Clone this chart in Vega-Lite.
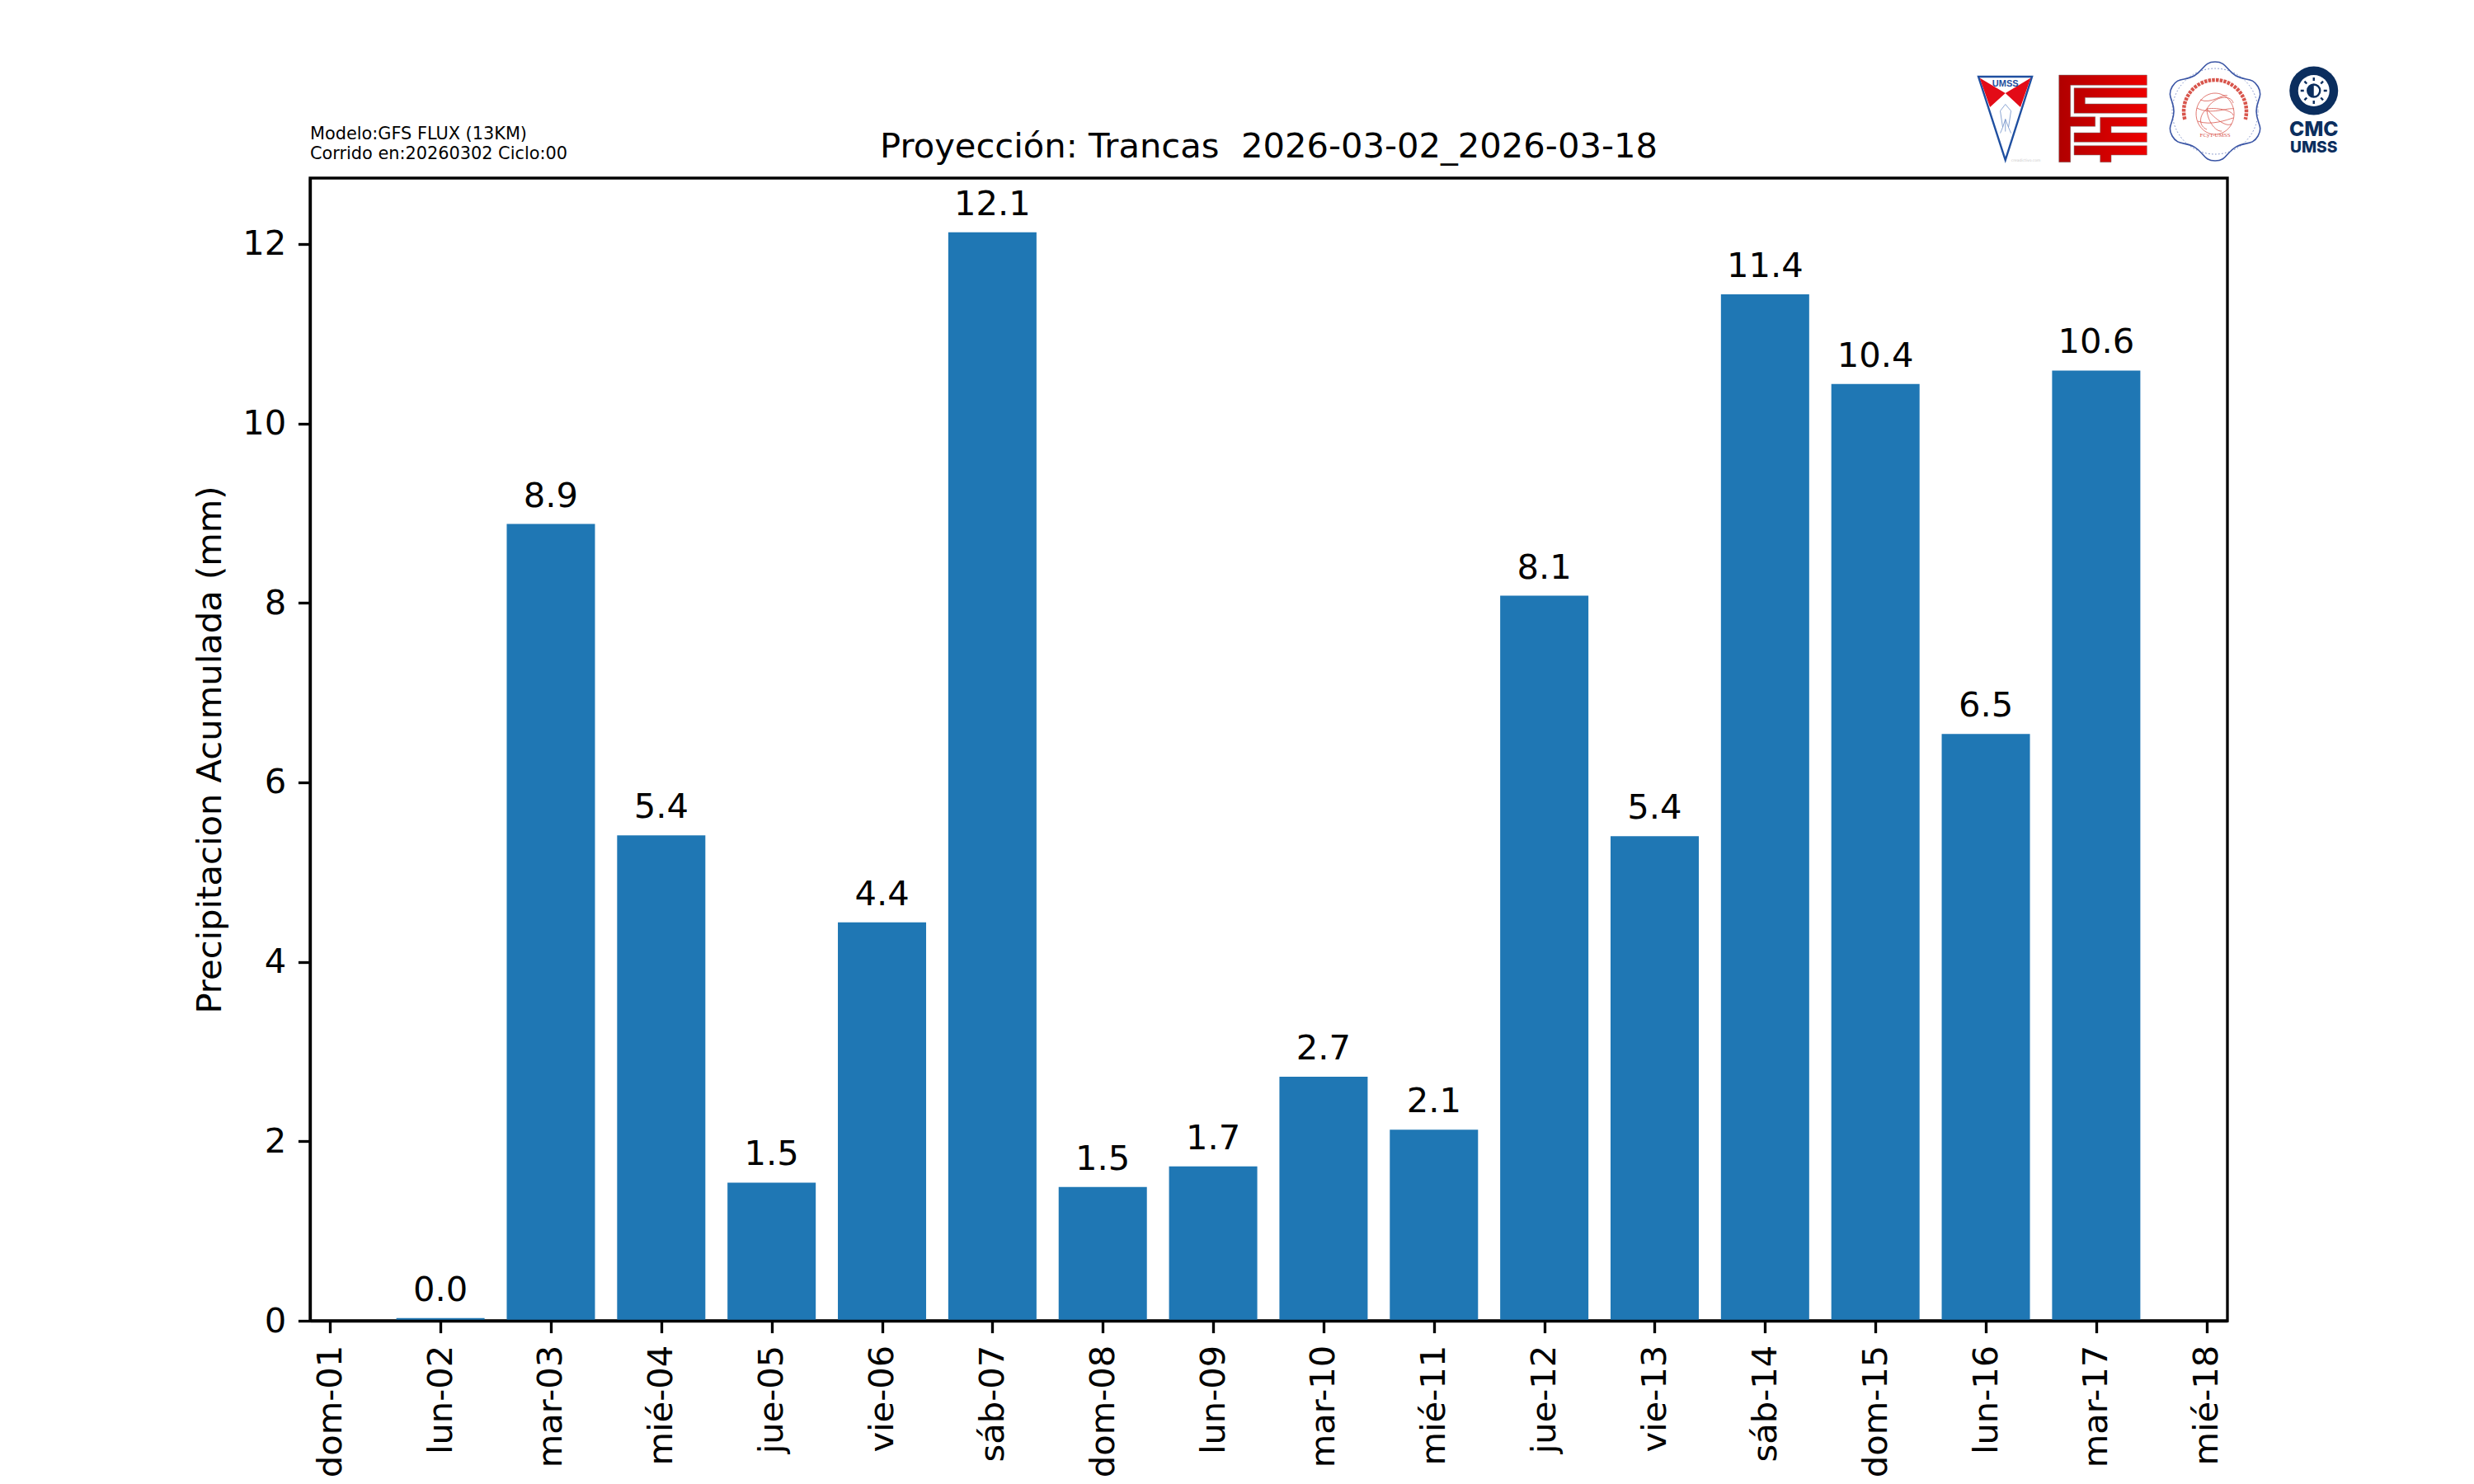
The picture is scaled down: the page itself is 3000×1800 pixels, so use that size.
{
"$schema":"https://vega.github.io/schema/vega-lite/v6.json",
"autosize":{"type":"none"},
"padding":{"left":376,"top":216,"right":299,"bottom":198},
"width":2325,"height":1386,
"background":"white",
"config":{"font":"DejaVu Sans","view":{"stroke":"#000000","strokeWidth":3.33}},
"title":{"text":"Proyección: Trancas \u00a02026-03-02_2026-03-18","font":"DejaVu Sans","fontSize":41.67,"fontWeight":"normal","color":"#000000","anchor":"middle","offset":25,"dy":186,"baseline":"alphabetic"},
"data":{"values":[
{"dia":"lun-02","precip":0.03},{"dia":"mar-03","precip":8.88},{"dia":"mié-04","precip":5.41},{"dia":"jue-05","precip":1.54},{"dia":"vie-06","precip":4.44},{"dia":"sáb-07","precip":12.13},{"dia":"dom-08","precip":1.49},{"dia":"lun-09","precip":1.72},{"dia":"mar-10","precip":2.72},{"dia":"mié-11","precip":2.13},{"dia":"jue-12","precip":8.08},{"dia":"vie-13","precip":5.4},{"dia":"sáb-14","precip":11.44},{"dia":"dom-15","precip":10.44},{"dia":"lun-16","precip":6.54},{"dia":"mar-17","precip":10.59}
]},
"layer":[
{"encoding":{
"x":{"field":"dia","type":"nominal","title":null,"scale":{"type":"point","domain":["dom-01","lun-02","mar-03","mié-04","jue-05","vie-06","sáb-07","dom-08","lun-09","mar-10","mié-11","jue-12","vie-13","sáb-14","dom-15","lun-16","mar-17","mié-18"],"padding":0.185,"align":0.49,"round":false},"axis":{"labelAngle":270,"labelAlign":"right","labelBaseline":"middle","labelFont":"DejaVu Sans","labelFontSize":41.67,"labelColor":"#000000","labelPadding":14.6,"tickSize":14.6,"tickWidth":3.33,"tickColor":"#000000","domainColor":"#000000","domainWidth":3.33,"grid":false,"labelOverlap":false,"zindex":1}},
"y":{"field":"precip","type":"quantitative","scale":{"domain":[0,12.735],"nice":false,"zero":true},"axis":{"title":"Precipitacion Acumulada (mm)","values":[0,2,4,6,8,10,12],"format":"d","titleFont":"DejaVu Sans","titleFontSize":41.67,"titleFontWeight":"normal","titleColor":"#000000","titlePadding":17,"labelFont":"DejaVu Sans","labelFontSize":41.67,"labelColor":"#000000","labelPadding":14.6,"tickSize":14.6,"tickWidth":3.33,"tickColor":"#000000","domainColor":"#000000","domainWidth":3.33,"grid":false,"zindex":1}}
},
"layer":[
{"mark":{"type":"bar","width":107,"color":"#1f77b4"}},
{"mark":{"type":"text","baseline":"alphabetic","align":"center","dy":-21,"fontSize":41.67,"font":"DejaVu Sans","color":"#000000"},
"encoding":{"text":{"field":"precip","type":"quantitative","format":".1f"}}}
]},
{"data":{"values":[{"k":1}]},
"encoding":{
"x":{"datum":"mar-17","type":"nominal","title":null},
"y":{"datum":13.208,"type":"quantitative","title":null}
},
"layer":[
{"mark":{"type":"text","text":["Modelo:GFS FLUX (13KM)","Corrido en:20260302 Ciclo:00"],"align":"left","baseline":"alphabetic","dx":-2165.85,"dy":4.3,"fontSize":20.83,"lineHeight":23.8,"font":"DejaVu Sans","color":"#000000"}},
{"mark":{"type":"point","filled":true,"size":4,"fill":"#ffffff","stroke":"#1f4fa0","strokeWidth":2.4,"opacity":1,"xOffset":5.65,"shape":"M-148.5,-71.5 L-83.5,-71.5 L-115.8,29.5 Z"}},
{"mark":{"type":"point","filled":true,"size":4,"fill":"#e30b17","opacity":1,"strokeWidth":0,"xOffset":5.65,"shape":"M-147,-70 L-115.8,-51.5 L-134.5,-34.5 Z M-85,-70 L-115.8,-51.5 L-97.5,-34.5 Z"}},
{"mark":{"type":"point","filled":false,"size":4,"stroke":"#6f8fc8","strokeWidth":0.8,"opacity":1,"xOffset":5.65,"shape":"M-115.8,-38 L-122,-30 L-119,-10 L-115.8,-20 L-112,-10 L-109,-30 Z M-119,-10 L-122,-3 M-112,-10 L-109,-3 M-115.8,-20 L-115.8,-5"}},
{"mark":{"type":"text","text":"UMSS","font":"Liberation Sans","fontWeight":"bold","fontSize":11,"color":"#1f4fa0","align":"center","baseline":"alphabetic","dx":-110.15,"dy":-59.5}},
{"mark":{"type":"text","text":"creadictivo.com","font":"DejaVu Sans","fontSize":4.5,"color":"#c8c8c8","align":"center","baseline":"alphabetic","dx":-85.35,"dy":31}},
{"mark":{"type":"point","filled":true,"size":4,"opacity":1,"stroke":"#777777","strokeWidth":0.5,"xOffset":5.65,"fill":{"gradient":"linear","x1":0,"y1":0,"x2":1,"y2":0,"stops":[{"offset":0,"color":"#b00000"},{"offset":1,"color":"#ee0000"}]},"shape":"M-50.83,-73.5 H55.83 V-61.17 H-36.83 V-22.83 H-6.83 V-11.17 H-36.83 V32.17 H-50.83 Z M-32.5,-57.83 H55.83 V-46.17 H-19.17 V-38.5 H55.83 V-27.17 H-32.5 Z M-0.83,-22.17 H55.83 V-11.17 H12.5 V-3.5 H55.83 V7.83 H-32.5 V-3.5 H-0.83 Z M-32.5,12.17 H55.83 V23.5 H12.5 V32.17 H-0.83 V23.5 H-32.5 Z"}},
{"mark":{"type":"point","shape":"circle","filled":false,"size":10816,"stroke":"#6c80c0","strokeWidth":1,"strokeDash":[1.5,2.5],"opacity":1,"xOffset":144.15,"yOffset":-29.5}},
{"mark":{"type":"point","filled":false,"size":4,"stroke":"#3a55a5","strokeWidth":1.6,"opacity":1,"xOffset":144.15,"yOffset":-29.5,"shape":"M0,-60 C14,-60 12.9,-50.3 25,-43.3 C37.1,-36.3 45,-42.1 52,-30 C59,-17.9 50,-14 50,0 C50,14 59,17.9 52,30 C45,42.1 37.1,36.3 25,43.3 C12.9,50.3 14,60 0,60 C-14,60 -12.9,50.3 -25,43.3 C-37.1,36.3 -45,42.1 -52,30 C-59,17.9 -50,14 -50,0 C-50,-14 -59,-17.9 -52,-30 C-45,-42.1 -37.1,-36.3 -25,-43.3 C-12.9,-50.3 -14,-60 0,-60 Z"}},
{"mark":{"type":"point","filled":false,"size":4,"stroke":"#d8554c","strokeWidth":4.5,"strokeDash":[3.5,1.2],"opacity":1,"xOffset":144.15,"yOffset":-29.5,"shape":"M-36.7,9.8 A38,38 0 1 1 36.7,9.8"}},
{"mark":{"type":"point","filled":false,"size":4,"stroke":"#d8554c","strokeWidth":0.8,"opacity":1,"xOffset":144.15,"yOffset":-29.5,"shape":"M-23,3 A23,25 0 1 1 23,3 A23,25 0 1 1 -23,3 Z M-10,-3 C0,-20 20,-20 22,-10 M-10,-3 C5,-5 22,0 22,5 M-10,-3 C0,10 15,20 20,15 M-10,-3 C-10,10 0,25 8,24 M-10,-3 C-20,5 -20,18 -10,22 M-18,-14 C-5,-8 10,-22 15,-19 M-22,-4 C-5,5 15,-5 23,-3 M-21,12 C-5,18 15,10 22,8"}},
{"mark":{"type":"text","text":"FCyT-UMSS","font":"Liberation Serif","fontSize":7,"color":"#d8554c","align":"center","baseline":"alphabetic","dx":144.15,"dy":1.5}},
{"mark":{"type":"point","shape":"circle","filled":true,"size":3481,"fill":"#0b2e5e","strokeWidth":0,"opacity":1,"xOffset":263.85,"yOffset":-54.5}},
{"mark":{"type":"point","shape":"circle","filled":true,"size":1444,"fill":"#ffffff","strokeWidth":0,"opacity":1,"xOffset":263.85,"yOffset":-54.5}},
{"mark":{"type":"point","filled":false,"size":4,"stroke":"#0b2e5e","strokeWidth":2.4,"opacity":1,"xOffset":263.85,"yOffset":-54.5,"shape":"M0,-16 V-12 M0,12 V16 M-16,0 H-12 M12,0 H16 M-11.3,-11.3 L-8.5,-8.5 M11.3,-11.3 L8.5,-8.5 M-11.3,11.3 L-8.5,8.5 M11.3,11.3 L8.5,8.5 M0,-7.5 A7.5,7.5 0 1 1 0,7.5 A7.5,7.5 0 1 1 0,-7.5 Z"}},
{"mark":{"type":"point","filled":true,"size":4,"fill":"#0b2e5e","strokeWidth":0,"opacity":1,"xOffset":263.85,"yOffset":-54.5,"shape":"M0,-7.5 A7.5,7.5 0 0 0 0,7.5 Z"}},
{"mark":{"type":"text","text":"CMC","font":"Inter","fontWeight":800,"fontSize":24.5,"color":"#0b2e5e","align":"center","baseline":"alphabetic","dx":263.85,"dy":0.5}},
{"mark":{"type":"text","text":"UMSS","font":"Inter","fontWeight":800,"fontSize":19.2,"color":"#0b2e5e","align":"center","baseline":"alphabetic","dx":263.85,"dy":20.5}}
]}
]
}
